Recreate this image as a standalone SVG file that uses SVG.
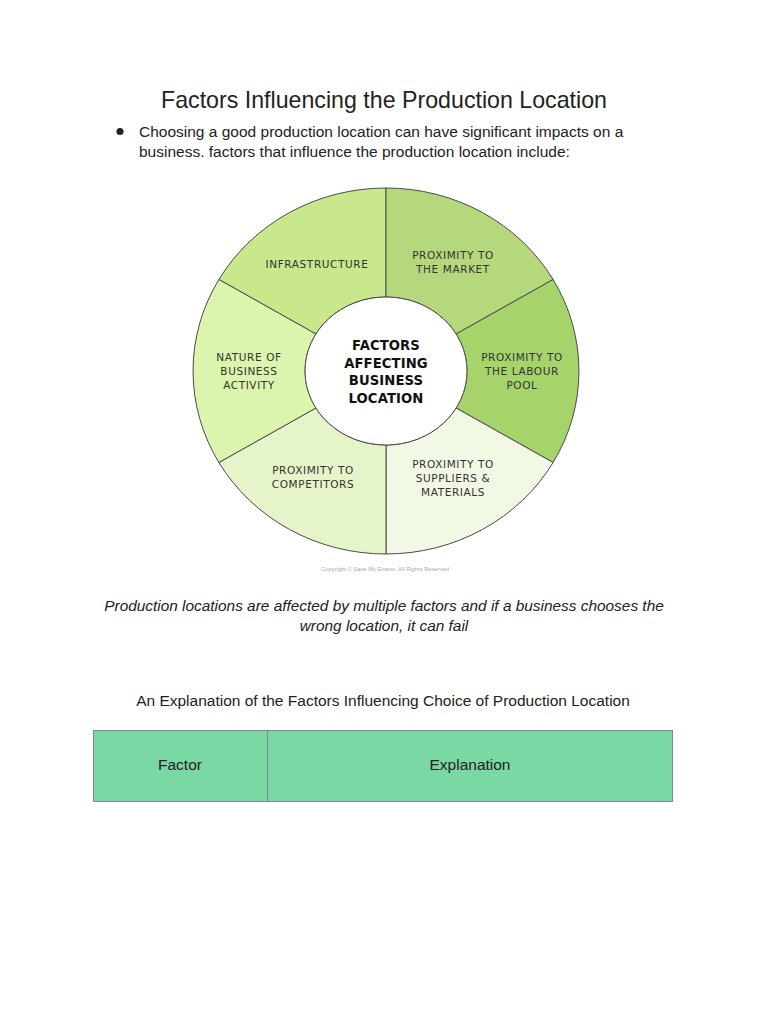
<svg xmlns="http://www.w3.org/2000/svg" width="768" height="1024" viewBox="0 0 768 1024">
<style>
.t{font-family:"Liberation Sans",Arial,sans-serif;fill:#222}
.lab{font-family:"DejaVu Sans","Liberation Sans",sans-serif;font-size:10.5px;fill:#333;text-anchor:middle;letter-spacing:0.6px}
.ctr{font-family:"DejaVu Sans","Liberation Sans",sans-serif;font-size:13.2px;font-weight:bold;fill:#111;text-anchor:middle;letter-spacing:0.1px}
.seg{stroke:#4a4a4a;stroke-width:1}
</style>
<rect width="768" height="1024" fill="#fff"/>
<text class="t" x="384" y="108" font-size="23.2" text-anchor="middle">Factors Influencing the Production Location</text>
<g id="bullet">
<circle cx="120" cy="131.5" r="3.6" fill="#222"/>
<text class="t" x="139" y="137" font-size="15.5">Choosing a good production location can have significant impacts on a</text>
<text class="t" x="139" y="157" font-size="15.5">business. factors that influence the production location include:</text>
</g>
<g id="wheel" transform="translate(386 371)">
<g id="seg-infrastructure"><path class="seg" fill="#c8e88b" d="M0 -183 A193 183 0 0 0 -167.1 -91.5 L-70.1 -37 A81 74 0 0 1 0 -74 Z"/></g>
<g id="seg-market"><path class="seg" fill="#b5d87c" d="M0 -183 A193 183 0 0 1 167.1 -91.5 L70.1 -37 A81 74 0 0 0 0 -74 Z"/></g>
<g id="seg-labour"><path class="seg" fill="#a7d36b" d="M167.1 -91.5 A193 183 0 0 1 167.1 91.5 L70.1 37 A81 74 0 0 0 70.1 -37 Z"/></g>
<g id="seg-suppliers"><path class="seg" fill="#f1f8e4" d="M167.1 91.5 A193 183 0 0 1 0 183 L0 74 A81 74 0 0 0 70.1 37 Z"/></g>
<g id="seg-competitors"><path class="seg" fill="#e6f5c9" d="M0 183 A193 183 0 0 1 -167.1 91.5 L-70.1 37 A81 74 0 0 0 0 74 Z"/></g>
<g id="seg-nature"><path class="seg" fill="#dcf5ae" d="M-167.1 91.5 A193 183 0 0 1 -167.1 -91.5 L-70.1 -37 A81 74 0 0 0 -70.1 37 Z"/></g>
<g id="center"><ellipse cx="0" cy="0" rx="81" ry="74" fill="#fff" stroke="#4a4a4a" stroke-width="1"/></g>
</g>
<g id="labels">
<text class="lab" x="317" y="268">INFRASTRUCTURE</text>
<text class="lab" x="453" y="259">PROXIMITY TO</text>
<text class="lab" x="453" y="273">THE MARKET</text>
<text class="lab" x="249" y="361">NATURE OF</text>
<text class="lab" x="249" y="375">BUSINESS</text>
<text class="lab" x="249" y="389">ACTIVITY</text>
<text class="lab" x="522" y="361">PROXIMITY TO</text>
<text class="lab" x="522" y="375">THE LABOUR</text>
<text class="lab" x="522" y="389">POOL</text>
<text class="lab" x="313" y="474">PROXIMITY TO</text>
<text class="lab" x="313" y="488">COMPETITORS</text>
<text class="lab" x="453" y="468">PROXIMITY TO</text>
<text class="lab" x="453" y="482">SUPPLIERS &amp;</text>
<text class="lab" x="453" y="496">MATERIALS</text>
<text class="ctr" x="386" y="350">FACTORS</text>
<text class="ctr" x="386" y="368">AFFECTING</text>
<text class="ctr" x="386" y="385">BUSINESS</text>
<text class="ctr" x="386" y="403">LOCATION</text>
</g>
<text x="385" y="571" font-family="Liberation Sans,Arial,sans-serif" font-size="5.8" fill="#aaa" text-anchor="middle">Copyright © Save My Exams. All Rights Reserved</text>
<text class="t" x="384" y="611" font-size="15.4" font-style="italic" text-anchor="middle">Production locations are affected by multiple factors and if a business chooses the</text>
<text class="t" x="384" y="631" font-size="15.4" font-style="italic" text-anchor="middle">wrong location, it can fail</text>
<text class="t" x="383" y="706" font-size="15.5" text-anchor="middle">An Explanation of the Factors Influencing Choice of Production Location</text>
<g id="table">
<rect x="93.5" y="730.5" width="579" height="71" fill="#79d8a3" stroke="#888" stroke-width="1"/>
<line x1="267.5" y1="730.5" x2="267.5" y2="801.5" stroke="#888" stroke-width="1"/>
<text class="t" x="180" y="770" font-size="15.5" text-anchor="middle" fill="#333">Factor</text>
<text class="t" x="470" y="770" font-size="15.5" text-anchor="middle" fill="#333">Explanation</text>
</g>
</svg>
